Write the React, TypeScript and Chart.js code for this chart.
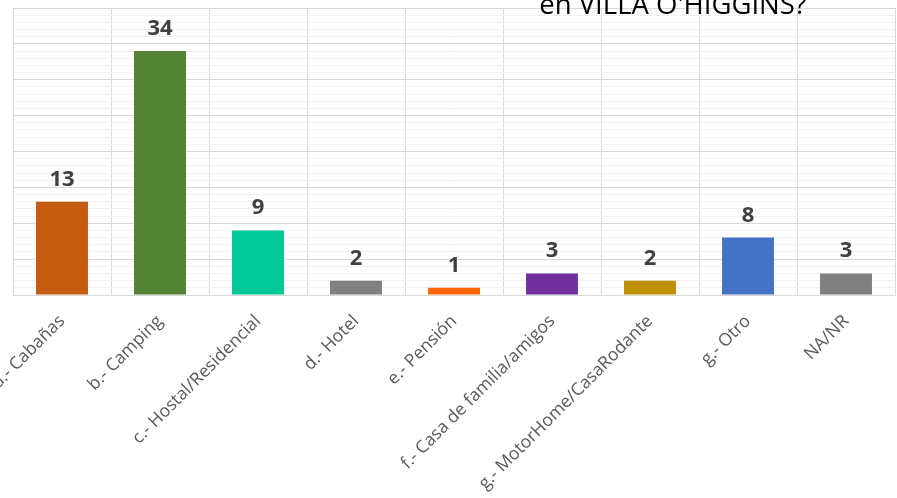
import React, { useEffect, useRef } from "react";
import { Chart, registerables } from "chart.js";

Chart.register(...registerables);

const categories = [
  "a.- Cabañas",
  "b.- Camping",
  "c.- Hostal/Residencial",
  "d.- Hotel",
  "e.- Pensión",
  "f.- Casa de familia/amigos",
  "g.- MotorHome/CasaRodante",
  "g.- Otro",
  "NA/NR",
];
const values = [13, 34, 9, 2, 1, 3, 2, 8, 3];
const barColors = [
  "#C55A11",
  "#548235",
  "#00C896",
  "#808080",
  "#FF6600",
  "#7030A0",
  "#BF9000",
  "#4472C4",
  "#808080",
];
const titleText = "en VILLA O'HIGGINS?";

const FONT = "'Open Sans', 'Noto Sans', sans-serif";

const valueLabels = {
  id: "valueLabels",
  afterDatasetsDraw(chart: any) {
    const ctx = chart.ctx;
    const meta = chart.getDatasetMeta(0);
    ctx.save();
    ctx.fillStyle = "#404040";
    ctx.font = `bold 22px ${FONT}`;
    ctx.textAlign = "center";
    ctx.textBaseline = "alphabetic";
    meta.data.forEach((bar: any, i: number) => {
      ctx.fillText(String(values[i]), bar.x, bar.y - 16);
    });
    ctx.restore();
  },
};

const partialTitle = {
  id: "partialTitle",
  afterDraw(chart: any) {
    const ctx = chart.ctx;
    ctx.save();
    ctx.fillStyle = "#000000";
    ctx.font = `27.5px ${FONT}`;
    ctx.textAlign = "center";
    ctx.textBaseline = "alphabetic";
    ctx.fillText(titleText, 673, 14);
    ctx.restore();
  },
};

export default function App() {
  const ref = useRef<HTMLCanvasElement | null>(null);
  useEffect(() => {
    if (!ref.current) return;
    const chart = new Chart(ref.current, {
      type: "bar",
      data: {
        labels: categories,
        datasets: [
          {
            data: values,
            backgroundColor: barColors,
            borderWidth: 0,
            categoryPercentage: 0.53,
            barPercentage: 1,
          },
        ],
      },
      options: {
        animation: false,
        responsive: false,
        maintainAspectRatio: false,
        layout: { padding: { left: 13, right: 2, top: 8, bottom: 0 } },
        plugins: {
          legend: { display: false },
          tooltip: { enabled: false },
          title: { display: false },
        },
        scales: {
          x: {
            grid: {
              offset: true,
              color: "#d9d9d9",
              lineWidth: 1,
              drawTicks: false,
            },
            border: { color: "#d9d9d9", width: 1 },
            ticks: {
              color: "#595959",
              font: { family: FONT, size: 17.5 },
              maxRotation: 45,
              minRotation: 45,
              autoSkip: false,
              padding: 16,
            },
            afterFit: (scale: any) => {
              scale.height = 203;
              scale.paddingLeft = 0;
              scale.paddingRight = 0;
            },
          },
          y: {
            min: 0,
            max: 40,
            ticks: { display: false, stepSize: 1 },
            grid: {
              drawTicks: false,
              color: (c: any) =>
                c.tick && c.tick.value % 5 === 0 ? "#d9d9d9" : "#f0f0f0",
              lineWidth: 1,
            },
            border: { color: "#d9d9d9", width: 1 },
            afterFit: (scale: any) => {
              scale.width = 0;
              scale.paddingTop = 0;
              scale.paddingBottom = 0;
            },
          },
        },
      },
      plugins: [valueLabels, partialTitle],
    });
    return () => chart.destroy();
  }, []);
  return (
    <div style={{ position: "absolute", left: 0, top: 0, width: 897, height: 498, background: "#ffffff" }}>
      <canvas ref={ref} width={897} height={498} style={{ display: "block" }} />
    </div>
  );
}
